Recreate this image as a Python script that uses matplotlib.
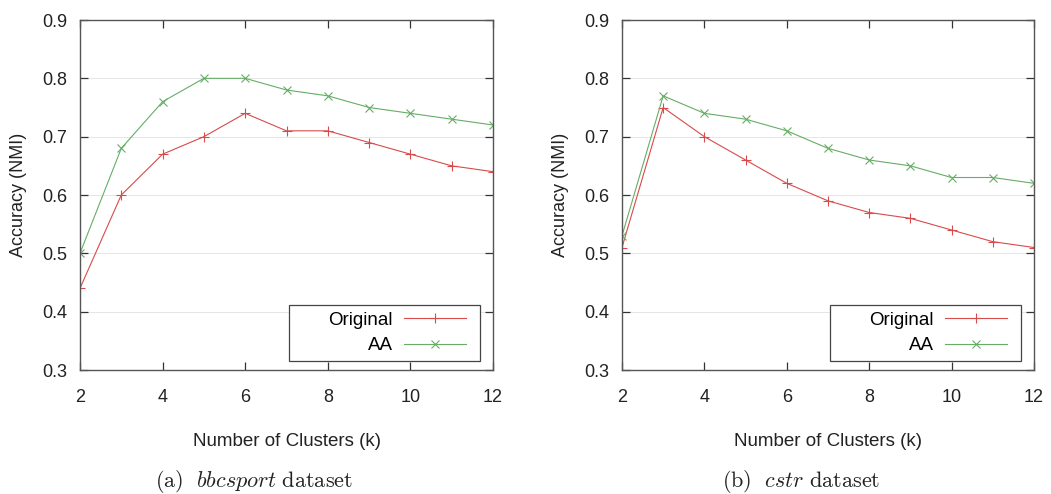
import matplotlib.pyplot as plt
from matplotlib.patches import Rectangle

plt.rcParams["font.family"] = ["Liberation Sans", "DejaVu Sans"]
plt.rcParams["mathtext.fontset"] = "cm"

k_values = [2, 3, 4, 5, 6, 7, 8, 9, 10, 11, 12]

bbcsport_original = [0.44, 0.60, 0.67, 0.70, 0.74, 0.71, 0.71, 0.69, 0.67, 0.65, 0.64]
bbcsport_aa       = [0.50, 0.68, 0.76, 0.80, 0.80, 0.78, 0.77, 0.75, 0.74, 0.73, 0.72]

cstr_original = [0.51, 0.75, 0.70, 0.66, 0.62, 0.59, 0.57, 0.56, 0.54, 0.52, 0.51]
cstr_aa       = [0.53, 0.77, 0.74, 0.73, 0.71, 0.68, 0.66, 0.65, 0.63, 0.63, 0.62]

x_ticks = [2, 4, 6, 8, 10, 12]
y_ticks = [0.3, 0.4, 0.5, 0.6, 0.7, 0.8, 0.9]

# (original, aa, caption, axes rect, caption x in figure fraction)
panels = [
    (bbcsport_original, bbcsport_aa, r"$\mathrm{(a)\ \ }\mathit{bbcsport}\mathrm{\ dataset}$",
     [0.0761, 0.251, 0.393, 0.7085], 0.242),
    (cstr_original, cstr_aa, r"$\mathrm{(b)\ \ }\mathit{cstr}\mathrm{\ dataset}$",
     [0.5918, 0.251, 0.392, 0.7085], 0.762),
]

RED = "#d94a4a"
GREEN = "#66ad66"

fig = plt.figure(figsize=(10.51, 4.94), dpi=100)

for orig, aa, caption, rect, cap_x in panels:
    ax = fig.add_axes(rect)
    ax.plot(k_values, orig, color=RED, lw=0.8, marker="+", ms=6.5, mew=0.8, label="Original")
    ax.plot(k_values, aa, color=GREEN, lw=0.8, marker="x", ms=5.5, mew=0.8, label="AA")

    ax.set_xlim(2, 12)
    ax.set_ylim(0.3, 0.9)
    ax.set_xticks(x_ticks)
    ax.set_yticks(y_ticks)
    ax.set_yticklabels([f"{v:.1f}" for v in y_ticks])
    ax.grid(axis="y", color="#e6e6e6", lw=0.7)
    ax.set_axisbelow(True)
    ax.tick_params(direction="in", length=6, width=0.9, top=True, right=True,
                   labelsize=13, colors="#333333", labelcolor="#222222")
    ax.tick_params(axis="x", pad=14)
    ax.tick_params(axis="y", pad=9)
    for sp in ax.spines.values():
        sp.set_color("#555555")
        sp.set_linewidth(1.0)

    ax.set_xlabel("Number of Clusters (k)", fontsize=13.5, color="#222222", labelpad=19)
    ax.set_ylabel("Accuracy (NMI)", fontsize=13, color="#222222", labelpad=11)

    # gnuplot-style key: frame drawn separately, entries right-aligned inside it
    ax.add_patch(Rectangle((0.506, 0.026), 0.4625, 0.16, transform=ax.transAxes,
                           facecolor="white", edgecolor="#444444", lw=0.9, zorder=4))
    leg = ax.legend(loc="center right", bbox_to_anchor=(0.935, 0.106), markerfirst=False,
                    frameon=False, fontsize=13.5, handlelength=3.3, borderpad=0,
                    labelspacing=0.45, handletextpad=0.6, borderaxespad=0)
    leg.set_zorder(5)

    fig.text(cap_x, 0.026, caption, ha="center", va="center", fontsize=16, color="#222222")

fig.savefig("out.png", dpi=100)
